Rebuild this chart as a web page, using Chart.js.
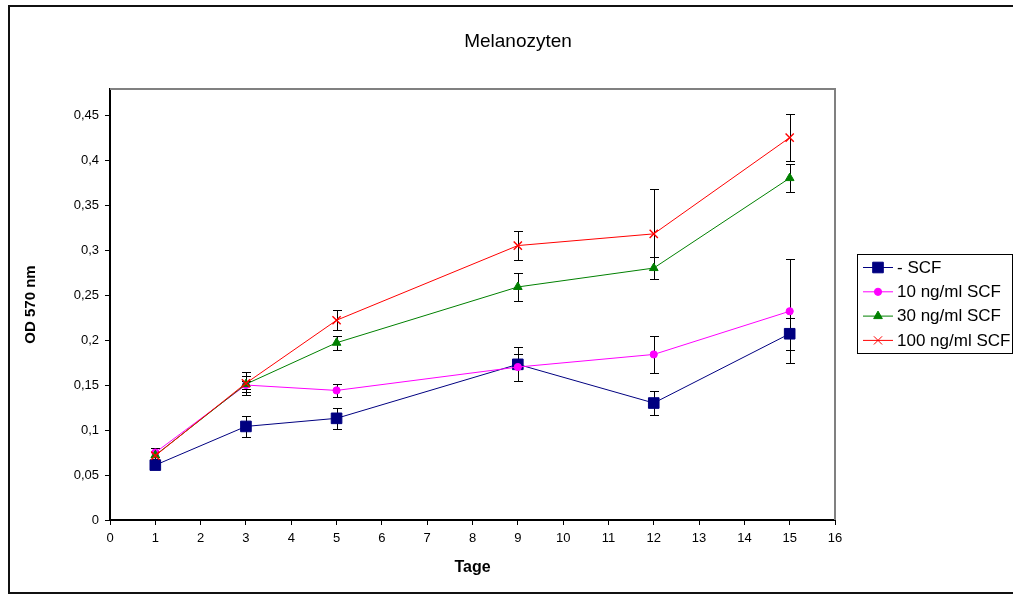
<!DOCTYPE html>
<html>
<head>
<meta charset="utf-8">
<title>Melanozyten</title>
<script src="https://cdn.jsdelivr.net/npm/chart.js@4/dist/chart.umd.min.js"></script>
<style>
  html, body { margin: 0; padding: 0; background: #fff; }
  #chart { display: block; }
</style>
</head>
<body>
<canvas id="chart" width="1013" height="594"></canvas>
<script>
// Days (x values)
var days = [1, 3, 5, 9, 12, 15];

// Series names
var seriesNames = ['- SCF', '10 ng/ml SCF', '30 ng/ml SCF', '100 ng/ml SCF'];

// OD 570 nm means
var noScf = [0.061, 0.104, 0.113, 0.173, 0.130, 0.207];
var scf10 = [0.075, 0.150, 0.144, 0.170, 0.184, 0.232];
var scf30 = [0.072, 0.151, 0.197, 0.259, 0.280, 0.380];
var scf100 = [0.0715, 0.152, 0.222, 0.305, 0.318, 0.425];

// error bar half heights (+/-)
var noScfErr = [0.003, 0.012, 0.012, 0.019, 0.013, 0.018];
var scf10Err = [0.005, 0.004, 0.007, 0.015, 0.021, 0.058];
var scf30Err = [0.004, 0.009, 0.008, 0.016, 0.012, 0.016];
var scf100Err = [0.008, 0.013, 0.011, 0.016, 0.050, 0.026];

// axis ticks
var yTicks = [0, 0.05, 0.1, 0.15, 0.2, 0.25, 0.3, 0.35, 0.4, 0.45];
var xMin = 0, xMax = 16;

var FONT = "'Liberation Sans', Arial, sans-serif";

function points(vals) {
    return days.map(function(d, i) { return { x: d, y: vals[i] }; });
}

function series(idx, vals, errs, color, style, radius, order) {
    return {
        label: seriesNames[idx],
        data: points(vals),
        errors: errs,
        borderColor: color,
        backgroundColor: color,
        borderWidth: 1,
        pointStyle: style,
        pointRadius: radius,
        pointHoverRadius: radius,
        pointBorderColor: color,
        pointBackgroundColor: color,
        pointBorderWidth: style === 'crossRot' ? 1.4 : 1,
        tension: 0,
        order: order
    };
}

// Outer frame, plot border, error bars, title and legend
var decorations = {
    id: 'decorations',
    beforeDatasetsDraw: function(chart) {
        var ctx = chart.ctx;
        var y = chart.scales.y;
        ctx.save();
        ctx.strokeStyle = '#000';
        ctx.lineWidth = 1;
        chart.data.datasets.forEach(function(ds, i) {
            var meta = chart.getDatasetMeta(i);
            meta.data.forEach(function(pt, j) {
                var v = ds.data[j].y, e = ds.errors[j];
                var x = Math.round(pt.x) + 0.5;
                var top = Math.round(y.getPixelForValue(v + e)) + 0.5;
                var bot = Math.round(y.getPixelForValue(v - e)) + 0.5;
                ctx.beginPath();
                ctx.moveTo(x, top); ctx.lineTo(x, bot);
                ctx.moveTo(x - 4.5, top); ctx.lineTo(x + 4.5, top);
                ctx.moveTo(x - 4.5, bot); ctx.lineTo(x + 4.5, bot);
                ctx.stroke();
            });
        });
        ctx.restore();
    },
    afterDraw: function(chart) {
        var ctx = chart.ctx;
        var a = chart.chartArea;
        ctx.save();

        // plot area top/right border
        ctx.strokeStyle = '#808080';
        ctx.lineWidth = 2;
        ctx.beginPath();
        ctx.moveTo(a.left, a.top);
        ctx.lineTo(a.right, a.top);
        ctx.lineTo(a.right, a.bottom);
        ctx.stroke();

        // outer frame
        ctx.strokeStyle = '#111';
        ctx.lineWidth = 2;
        ctx.strokeRect(9, 6, 1010, 587);

        // title
        ctx.fillStyle = '#000';
        ctx.font = '19px ' + FONT;
        ctx.textAlign = 'center';
        ctx.textBaseline = 'middle';
        ctx.fillText('Melanozyten', 518, 42);

        // legend
        var lx = 857, ly = 254, lw = 155, lh = 99;
        ctx.fillStyle = '#fff';
        ctx.fillRect(lx, ly, lw, lh);
        ctx.strokeStyle = '#000';
        ctx.lineWidth = 1;
        ctx.strokeRect(lx + 0.5, ly + 0.5, lw, lh);
        ctx.font = '17px ' + FONT;
        ctx.textAlign = 'left';
        chart.data.datasets.forEach(function(ds, i) {
            var ry = 267 + i * 24.3;
            ctx.strokeStyle = ds.borderColor;
            ctx.lineWidth = 1;
            ctx.beginPath();
            ctx.moveTo(863, ry + 0.5);
            ctx.lineTo(893, ry + 0.5);
            ctx.stroke();
            ctx.fillStyle = ds.borderColor;
            Chart.helpers.drawPoint(ctx, {
                pointStyle: ds.pointStyle,
                radius: ds.pointRadius,
                rotation: 0,
                borderWidth: ds.pointBorderWidth
            }, 878, ry + 0.5);
            ctx.fillStyle = '#000';
            ctx.fillText(ds.label, 897, ry + 1);
        });
        ctx.restore();
    }
};

var ctx = document.getElementById('chart').getContext('2d');
var chart = new Chart(ctx, {
    type: 'line',
    data: {
        datasets: [
            series(0, noScf, noScfErr, '#000080', 'rect', 7.5, 3),
            series(1, scf10, scf10Err, '#ff00ff', 'circle', 3.6, 2),
            series(2, scf30, scf30Err, '#008000', 'triangle', 5, 1),
            series(3, scf100, scf100Err, '#ff0000', 'crossRot', 5.8, 0)
        ]
    },
    options: {
        responsive: false,
        animation: false,
        events: [],
        layout: {
            padding: { left: 0, right: 178, top: 89, bottom: 0 }
        },
        plugins: {
            legend: { display: false },
            title: { display: false },
            tooltip: { enabled: false }
        },
        scales: {
            x: {
                type: 'linear',
                min: xMin,
                max: xMax,
                afterFit: function(s) { s.height = 74; },
                ticks: {
                    stepSize: 1,
                    color: '#000',
                    padding: 6,
                    maxRotation: 0,
                    font: { family: FONT, size: 13 }
                },
                grid: {
                    drawOnChartArea: false,
                    drawTicks: true,
                    tickLength: 5,
                    color: '#000'
                },
                border: { color: '#000', width: 2 },
                title: {
                    display: true,
                    text: 'Tage',
                    color: '#000',
                    font: { family: FONT, size: 16, weight: 'bold' },
                    padding: { top: 0, bottom: 17 }
                }
            },
            y: {
                type: 'linear',
                min: 0,
                max: 0.479,
                afterFit: function(s) { s.width = 110; },
                afterBuildTicks: function(s) {
                    s.ticks = yTicks.map(function(v) { return { value: v }; });
                },
                ticks: {
                    color: '#000',
                    padding: 6,
                    font: { family: FONT, size: 13 },
                    callback: function(v) {
                        return String(Math.round(v * 100) / 100).replace('.', ',');
                    }
                },
                grid: {
                    drawOnChartArea: false,
                    drawTicks: true,
                    tickLength: 5,
                    color: '#000'
                },
                border: { color: '#000', width: 2 },
                title: {
                    display: true,
                    text: 'OD 570 nm',
                    color: '#000',
                    font: { family: FONT, size: 15, weight: 'bold' },
                    padding: { top: 22, bottom: 0 }
                }
            }
        }
    },
    plugins: [decorations]
});
</script>
</body>
</html>
